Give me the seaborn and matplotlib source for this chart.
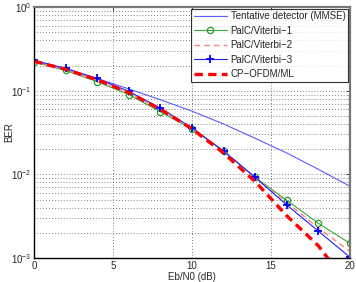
import numpy as np
import pandas as pd
import matplotlib
matplotlib.use("Agg")
import matplotlib.pyplot as plt
import seaborn as sns

# Eb/N0 points (dB)
ebn0 = [0, 2, 4, 6, 8, 10, 12, 14, 16, 18, 20]

# BER curves
ber_mmse = [0.226, 0.18, 0.14, 0.105, 0.078, 0.057, 0.040, 0.027, 0.018, 0.0115, 0.0072]
ber_vit1 = [0.220, 0.175, 0.128, 0.090, 0.056, 0.035, 0.019, 0.0092, 0.0049, 0.0026, 0.0015]
ber_vit2 = [0.225, 0.180, 0.134, 0.094, 0.059, 0.0355, 0.019, 0.0092, 0.0046, 0.0023, 0.0012]
ber_vit3 = [0.230, 0.185, 0.140, 0.098, 0.062, 0.036, 0.019, 0.0092, 0.0043, 0.0021, 0.00102]
ber_ml = [0.225, 0.180, 0.135, 0.095, 0.060, 0.035, 0.018, 0.0082, 0.0032, 0.0014, 0.00045]

labels = ['Tentative detector (MMSE)', 'PalC/Viterbi\u22121', 'PalC/Viterbi\u22122',
          'PalC/Viterbi\u22123', 'CP\u2212OFDM/ML']

sns.set_style("white")
plt.rcParams['font.family'] = ['Liberation Sans', 'DejaVu Sans']
plt.rcParams['mathtext.fontset'] = 'custom'
plt.rcParams['mathtext.rm'] = 'Liberation Sans'

fig = plt.figure(figsize=(3.56, 2.82), dpi=100)
ax = fig.add_axes([0.0955, 0.085, 0.8875, 0.89])

sns.lineplot(x=ebn0, y=ber_mmse, ax=ax, color='#5c5cff', lw=0.8, label=labels[0])
sns.lineplot(x=ebn0, y=ber_vit1, ax=ax, color='#3aa83a', lw=0.8, marker='o', ms=4.5,
             mfc='none', mec='#2a9a2a', mew=0.9, label=labels[1])
sns.lineplot(x=ebn0, y=ber_vit2, ax=ax, color='#ff8080', lw=1.0, ls=(0, (4, 3)),
             label=labels[2])
sns.lineplot(x=ebn0, y=ber_vit3, ax=ax, color='#2020ff', lw=0.8, marker='+', ms=5.5,
             mec='#0000ff', mew=1.3, label=labels[3])
sns.lineplot(x=ebn0, y=ber_ml, ax=ax, color='#ff0000', lw=2.4, ls=(0, (2.5, 1.6)),
             label=labels[4])

ax.set_yscale('log')
ax.set_xlim(0, 20)
ax.set_ylim(1e-3, 1)
ax.set_xticks([0, 5, 10, 15, 20])
ax.set_xlabel('Eb/N0 (dB)', fontsize=7, labelpad=1)
ax.set_ylabel('BER', fontsize=7, va='center')
ax.yaxis.set_label_coords(-0.078, 0.5)

ax.grid(True, which='major', axis='both', ls=(0, (1, 2.5)), color='#555555', lw=0.6)
ax.grid(True, which='minor', axis='y', ls=(0, (1, 2.5)), color='#555555', lw=0.6)
ax.tick_params(which='both', direction='in', labelsize=7, length=3, width=0.6,
               top=True, right=True, pad=2)
ax.tick_params(which='minor', length=1.5)
for s in ['left', 'bottom']:
    ax.spines[s].set_color('black')
    ax.spines[s].set_linewidth(1.0)
for s in ['top', 'right']:
    ax.spines[s].set_color('#777777')
    ax.spines[s].set_linewidth(1.6)

leg = ax.legend(loc='upper right', fontsize=7, frameon=True, fancybox=False,
                edgecolor='black', borderpad=0.3, labelspacing=0.45,
                handlelength=3.4, handletextpad=0.4, borderaxespad=0.15)
leg.get_frame().set_linewidth(0.8)

fig.savefig('out.png', dpi=100)
